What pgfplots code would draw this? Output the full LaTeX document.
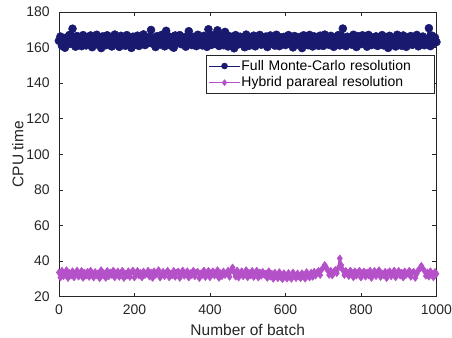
\documentclass[border=0pt]{standalone}
\usepackage{fontspec}
\setmainfont{Liberation Sans}
\usepackage{pgfplots}
\pgfplotsset{compat=1.18}
\definecolor{mcblue}{RGB}{25,25,112}
\definecolor{hpurple}{RGB}{180,80,200}
\definecolor{axgray}{RGB}{38,38,38}
\begin{document}
\begin{tikzpicture}
\begin{axis}[
 scale only axis, width=378pt, height=285pt,
 xmin=0, xmax=1000, ymin=20, ymax=180,
 xtick={0,200,400,600,800,1000}, ytick={20,40,60,80,100,120,140,160,180},
 clip=false,
 axis line style={axgray, line width=0.5pt},
 tick style={axgray, line width=0.5pt},
 major tick length=4pt,
 tick align=inside,
 /pgf/number format/assume math mode=true,
 /pgf/number format/1000 sep={},
 ticklabel style={font=\fontsize{14}{16}\selectfont, text=axgray},
 xticklabel style={anchor=north, inner sep=0pt, yshift=-8pt},
 yticklabel style={anchor=east, inner sep=0pt, xshift=-9pt},
 xlabel={Number of batch}, ylabel={CPU time},
 label style={font=\fontsize{15.5}{18}\selectfont, text=axgray, inner sep=0pt},
 xlabel style={at={(axis description cs:0.5,-0.136)}, anchor=base},
 ylabel style={at={(axis description cs:-0.093,0.5)}, anchor=south},
 legend style={at={(0.9947,0.849)}, anchor=north east, draw=axgray, line width=0.5pt, fill=white,
   inner xsep=2pt, inner ysep=4pt, font=\fontsize{14}{16}\selectfont, row sep=3pt,
   nodes={inner sep=1pt, text width=190pt, align=left}},
 legend cell align=left,
 legend image code/.code={\draw[line width=0.6pt,mark repeat=2,mark phase=2,mark size=3pt] plot coordinates {(0cm,0cm) (0.55cm,0cm) (1.1cm,0cm)};},
]
\addplot[color=mcblue, line width=2.2pt, line join=round, mark=*, mark size=4pt, mark options={solid, fill=mcblue, line width=0.5pt}] coordinates {
(0,163.8)(4,166.2)(8,161.0)(12,164.9)(16,159.9)(20,165.7)(24,162.4)(28,167.1)(32,162.0)(36,170.6)
(40,164.3)(44,160.5)(48,166.5)(52,162.9)(56,165.2)(60,160.8)(64,167.0)(68,163.6)(72,161.2)(76,165.9)
(80,162.1)(84,166.8)(88,160.2)(92,164.5)(96,163.0)(100,167.2)(104,161.5)(108,165.1)(112,159.7)(116,166.3)
(120,163.4)(124,161.3)(128,166.9)(132,162.6)(136,165.8)(140,160.6)(144,164.2)(148,167.3)(152,161.8)(156,165.0)
(160,160.4)(164,166.6)(168,163.1)(172,164.7)(176,161.0)(180,167.0)(184,162.3)(188,165.5)(192,159.8)(196,166.1)
(200,163.7)(204,161.6)(208,166.7)(212,160.9)(216,165.3)(220,162.8)(224,167.4)(228,161.4)(232,164.8)(236,162.5)
(240,166.0)(244,169.9)(248,162.2)(252,165.6)(256,160.3)(260,166.4)(264,163.3)(268,161.7)(272,167.1)(276,164.0)
(280,160.7)(284,169.4)(288,163.9)(292,166.2)(296,161.1)(300,165.4)(304,159.9)(308,166.8)(312,162.7)(316,164.6)
(320,167.0)(324,161.9)(328,165.7)(332,162.4)(336,160.5)(340,166.5)(344,169.2)(348,163.2)(352,161.4)(356,166.0)
(360,164.1)(364,160.8)(368,167.2)(372,162.9)(376,165.5)(380,161.2)(384,166.6)(388,163.5)(392,160.4)(396,170.3)
(400,164.7)(404,161.5)(408,166.9)(412,162.1)(416,165.0)(420,169.7)(424,160.9)(428,166.3)(432,163.8)(436,161.3)
(440,168.8)(444,163.0)(448,160.6)(452,166.4)(456,162.6)(460,165.9)(464,159.6)(468,167.0)(472,164.3)(476,161.8)
(480,166.1)(484,162.8)(488,165.2)(492,160.2)(496,167.3)(500,163.4)(504,161.0)(508,165.8)(512,162.3)(516,166.7)
(520,160.7)(524,164.9)(528,163.1)(532,167.1)(536,161.6)(540,165.6)(544,162.0)(548,166.2)(552,160.3)(556,164.4)
(560,166.8)(564,162.5)(568,165.3)(572,161.1)(576,167.2)(580,163.7)(584,160.8)(588,165.7)(592,162.9)(596,166.0)
(600,161.4)(604,164.6)(608,167.0)(612,162.2)(616,165.1)(620,160.1)(624,166.5)(628,163.3)(632,161.7)(636,165.9)
(640,163.0)(644,159.7)(648,166.9)(652,162.7)(656,165.4)(660,161.3)(664,167.1)(668,163.9)(672,160.6)(676,166.3)
(680,162.4)(684,165.0)(688,161.0)(692,166.7)(696,163.6)(700,160.9)(704,167.3)(708,162.1)(712,165.2)(716,161.5)
(720,166.6)(724,163.2)(728,160.4)(732,165.8)(736,162.8)(740,167.0)(744,161.2)(748,164.8)(752,170.7)(756,163.5)
(760,160.8)(764,166.1)(768,162.6)(772,165.5)(776,161.6)(780,167.2)(784,163.0)(788,160.3)(792,166.4)(796,164.2)
(800,161.9)(804,166.9)(808,162.3)(812,165.1)(816,160.5)(820,167.1)(824,163.8)(828,161.4)(832,165.7)(836,162.0)
(840,166.3)(844,160.9)(848,164.7)(852,163.1)(856,167.0)(860,161.2)(864,165.9)(868,162.5)(872,159.8)(876,166.6)
(880,163.4)(884,161.7)(888,165.3)(892,160.6)(896,167.2)(900,162.9)(904,164.5)(908,161.0)(912,166.8)(916,163.6)
(920,160.4)(924,165.8)(928,162.2)(932,166.5)(936,161.5)(940,164.9)(944,163.0)(948,167.1)(952,160.7)(956,165.4)
(960,162.7)(964,166.2)(968,161.3)(972,165.0)(976,163.9)(980,170.9)(984,160.8)(988,166.7)(992,162.4)(996,165.6)
(1000,163.1)
};
\addplot[color=hpurple, line width=2.2pt, line join=round, mark=diamond*, mark size=3.5pt, mark options={solid, fill=hpurple, line width=0.5pt}] coordinates {
(0,33.6)(4,30.7)(8,34.6)(12,31.5)(16,32.6)(20,34.9)(24,30.4)(28,33.3)(32,31.8)(36,34.3)
(40,30.8)(44,33.1)(48,34.7)(52,31.2)(56,32.4)(60,34.5)(64,30.5)(68,33.5)(72,31.7)(76,34.0)
(80,31.0)(84,34.6)(88,32.8)(92,30.7)(96,33.9)(100,31.9)(104,33.2)(108,30.3)(112,34.9)(116,32.2)
(120,32.9)(124,30.5)(128,34.5)(132,31.4)(136,33.6)(140,32.1)(144,34.7)(148,30.8)(152,32.5)(156,34.2)
(160,31.1)(164,33.2)(168,34.6)(172,30.4)(176,32.8)(180,31.7)(184,34.3)(188,31.0)(192,33.5)(196,34.7)
(200,30.7)(204,32.6)(208,34.5)(212,31.8)(216,33.3)(220,30.8)(224,34.2)(228,32.1)(232,32.9)(236,34.6)
(240,31.2)(244,33.6)(248,30.5)(252,34.3)(256,32.2)(260,33.1)(264,34.9)(268,30.7)(272,32.4)(276,34.0)
(280,31.5)(284,33.3)(288,34.6)(292,30.8)(296,32.8)(300,31.9)(304,34.5)(308,31.1)(312,33.5)(316,34.2)
(320,30.5)(324,32.9)(328,34.7)(332,31.7)(336,32.5)(340,34.3)(344,30.7)(348,33.2)(352,32.1)(356,34.6)
(360,31.4)(364,33.6)(368,34.0)(372,30.4)(376,33.1)(380,32.2)(384,34.7)(388,31.0)(392,32.8)(396,34.5)
(400,30.8)(404,33.5)(408,34.3)(412,31.8)(416,32.6)(420,34.9)(424,30.5)(428,33.2)(432,31.5)(436,34.2)
(440,32.1)(444,33.1)(448,34.6)(452,31.1)(456,34.7)(460,36.4)(464,33.6)(468,31.2)(472,34.7)(476,30.7)
(480,33.2)(484,34.3)(488,31.4)(492,32.5)(496,34.9)(500,30.8)(504,33.3)(508,31.9)(512,34.5)(516,31.0)
(520,32.8)(524,34.6)(528,30.7)(532,33.6)(536,31.7)(540,34.0)(544,32.2)(548,33.1)(552,30.5)(556,34.3)
(560,31.2)(564,32.9)(568,30.0)(572,33.5)(576,31.8)(580,30.3)(584,33.8)(588,31.1)(592,29.8)(596,33.2)
(600,31.5)(604,30.1)(608,33.3)(612,31.0)(616,30.0)(620,33.6)(624,31.7)(628,30.4)(632,33.1)(636,31.2)
(640,30.3)(644,33.2)(648,31.4)(652,30.1)(656,33.8)(660,31.9)(664,30.7)(668,33.5)(672,31.1)(676,34.0)
(680,31.8)(684,33.6)(688,34.5)(692,32.1)(696,35.2)(700,36.3)(704,37.8)(708,36.4)(712,34.7)(716,32.2)
(720,34.6)(724,31.9)(728,33.5)(732,35.0)(736,33.2)(740,36.0)(744,41.5)(748,37.6)(752,34.9)(756,32.1)
(760,34.5)(764,32.6)(768,31.5)(772,34.7)(776,32.4)(780,30.8)(784,34.3)(788,31.8)(792,33.5)(796,34.6)
(800,30.7)(804,33.1)(808,34.2)(812,31.2)(816,33.6)(820,31.9)(824,34.6)(828,30.5)(832,32.8)(836,34.5)
(840,31.5)(844,33.3)(848,34.9)(852,31.0)(856,32.9)(860,32.1)(864,34.0)(868,30.4)(872,33.6)(876,34.3)
(880,31.4)(884,33.2)(888,34.7)(892,30.8)(896,32.5)(900,34.5)(904,31.8)(908,33.5)(912,30.7)(916,34.2)
(920,32.2)(924,33.1)(928,34.6)(932,31.1)(936,33.5)(940,34.0)(944,30.5)(948,32.9)(952,34.9)(956,35.6)
(960,37.3)(964,35.8)(968,34.5)(972,31.7)(976,33.6)(980,31.2)(984,34.3)(988,32.4)(992,30.8)(996,33.9)
(1000,32.8)
};
\legend{Full Monte-Carlo resolution, Hybrid parareal resolution}
\end{axis}
\path (current axis.south west) ++(-59pt,-41pt) rectangle ++(452pt,338pt);
\end{tikzpicture}
\end{document}
